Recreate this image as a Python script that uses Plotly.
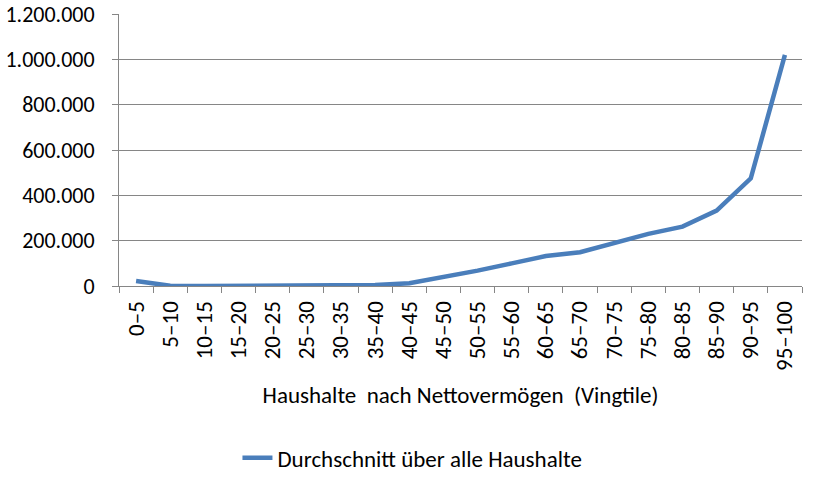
import plotly.graph_objects as go

categories = ["0–5", "5–10", "10–15", "15–20", "20–25", "25–30", "30–35", "35–40",
              "40–45", "45–50", "50–55", "55–60", "60–65", "65–70", "70–75", "75–80",
              "80–85", "85–90", "90–95", "95–100"]
values = [22000, 1000, 0, 0, 0, 0, 1000, 4000, 12000, 39000, 68000, 100000,
          132000, 149000, 188000, 230000, 262000, 333000, 475000, 1020000]
y_ticks = [0, 200000, 400000, 600000, 800000, 1000000, 1200000]

font_family = "Carlito, Liberation Sans Narrow, DejaVu Sans Condensed, Arial, sans-serif"
fig = go.Figure()
fig.add_trace(go.Scatter(
    x=categories, y=values, mode="lines",
    name="Durchschnitt über alle Haushalte",
    line=dict(color="#4A7EBB", width=4.5),
))
fig.update_layout(
    width=820, height=484,
    margin=dict(l=119, r=18, t=14, b=198, autoexpand=False),
    paper_bgcolor="white", plot_bgcolor="white",
    separators=",.",
    font=dict(family=font_family, size=22, color="black"),
    showlegend=True,
    legend=dict(orientation="h", xref="container", x=0.503, xanchor="center",
                yref="container", y=0.054, yanchor="middle",
                font=dict(size=23)),
    xaxis=dict(
        type="category", tickangle=-90, showgrid=False, range=[-0.5, 19.5],
        showline=True, linecolor="#868686", linewidth=1,
        ticks="outside", tickson="boundaries", ticklen=6, tickcolor="#868686",
        ticklabelstandoff=5,
        title=dict(text="Haushalte  nach Nettovermögen  (Vingtile)", font=dict(size=23), standoff=16),
        tickfont=dict(size=23), automargin=False,
    ),
    yaxis=dict(
        range=[0, 1200000], tickvals=y_ticks, tickformat=",d",
        showgrid=True, gridcolor="#868686", gridwidth=1,
        showline=True, linecolor="#868686", linewidth=1,
        ticks="outside", ticklen=6, tickcolor="#868686", ticklabelstandoff=13,
        tickfont=dict(size=22), zeroline=False, automargin=False,
    ),
)
fig.write_html("out.html", config={"displayModeBar": False},
               post_script="document.body.style.margin='0';")
